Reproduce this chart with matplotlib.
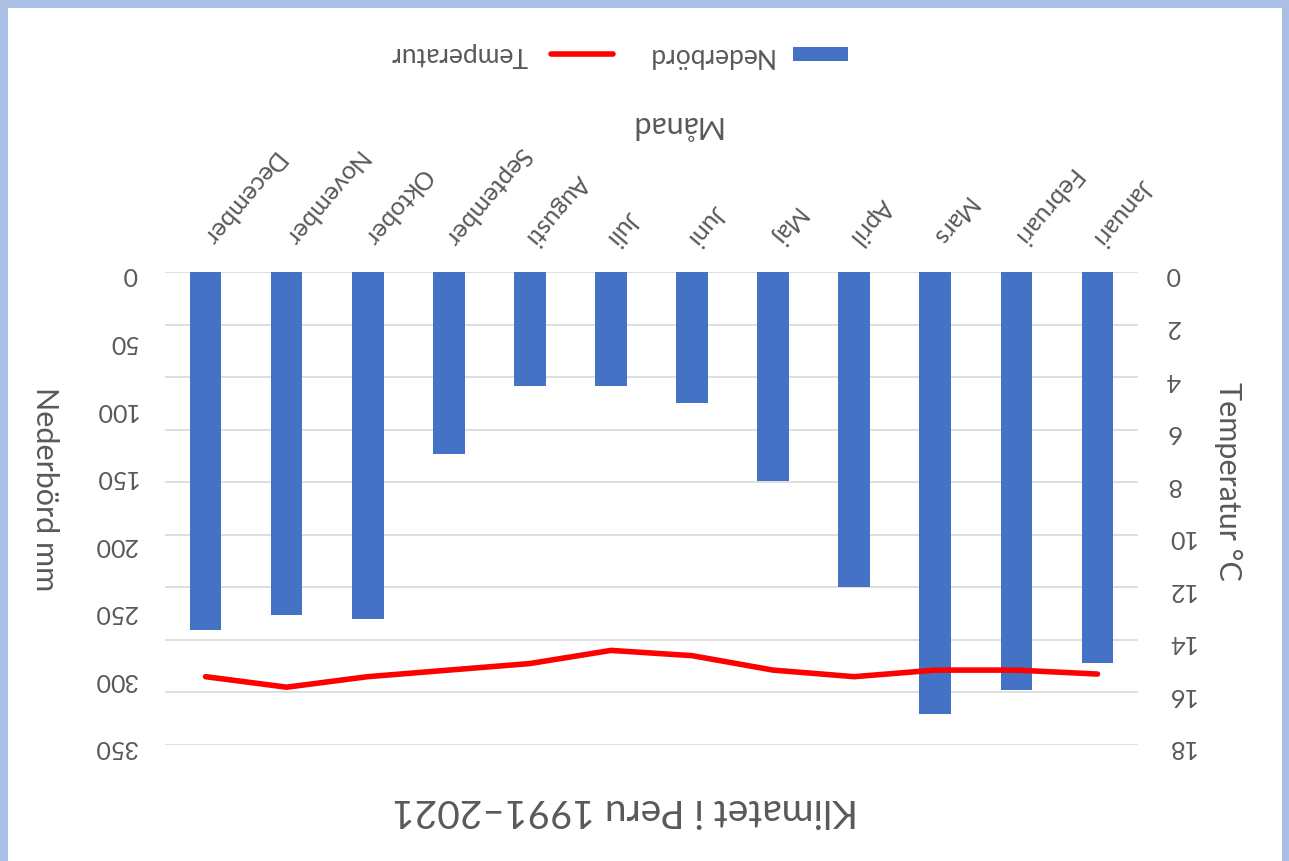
import matplotlib
matplotlib.use("Agg")
import matplotlib.pyplot as plt
from matplotlib.patches import Rectangle

plt.rcParams['font.family'] = ['Lato', 'DejaVu Sans']

# data
months = ['Januari', 'Februari', 'Mars', 'April', 'Maj', 'Juni', 'Juli',
          'Augusti', 'September', 'Oktober', 'November', 'December']
nederbord = [289, 309, 327, 233, 155, 97, 84, 84, 135, 257, 254, 265]
temperatur = [15.3, 15.15, 15.15, 15.4, 15.15, 14.6, 14.4, 14.9, 15.15, 15.4, 15.8, 15.4]
prec_ticks = list(range(0, 351, 50))
temp_ticks = list(range(0, 19, 2))

GRAY = '#595959'
BLUE = '#4472c4'
RED = '#ff0000'
W, H = 1289, 862

fig = plt.figure(figsize=(W / 100, H / 100), dpi=100)
fig.patch.set_facecolor('#a9bfe4')
fig.add_artist(Rectangle((8 / W, 0), 1274 / W, 853 / H, transform=fig.transFigure,
                         facecolor='white', edgecolor='none', zorder=-5))

# whole chart is shown upside down
axg = fig.add_axes([165 / W, (H - 746) / H, 973 / W, 473 / H])
axb = axg.twinx()
axl = axg.twinx()
axg.set_zorder(0)
axb.set_zorder(1)
axl.set_zorder(2)

x = list(range(len(months)))

# gridlines + temperature ticks
axg.set_ylim(18, 0)
axg.set_yticks(temp_ticks)
axg.yaxis.tick_right()
axg.grid(axis='y', color='#d9d9d9', linewidth=1.2)
axg.tick_params(axis='y', length=0, pad=20, labelsize=18, labelcolor=GRAY, labelrotation=180)
axg.set_xticks(x)
axg.xaxis.tick_top()
axg.set_xticklabels(months, rotation=230, rotation_mode='anchor', ha='right', va='center')
axg.tick_params(axis='x', length=0, pad=22, labelsize=18, labelcolor=GRAY)
axg.set_xlim(-0.5, 11.5)
axg.invert_xaxis()

# precipitation bars
axb.bar(x, nederbord, width=0.39, color=BLUE)
axb.set_ylim(350, 0)
axb.set_yticks(prec_ticks)
axb.yaxis.tick_left()
axb.tick_params(axis='y', length=0, pad=20, labelsize=18, labelcolor=GRAY, labelrotation=180)
axb.tick_params(axis='x', top=False, bottom=False, labeltop=False, labelbottom=False)

# temperature line
axl.plot(x, temperatur, color=RED, linewidth=4, solid_capstyle='round', solid_joinstyle='round')
axl.set_ylim(18, 0)
axl.set_yticks([])
axl.tick_params(axis='x', top=False, bottom=False, labeltop=False, labelbottom=False)

for a in (axg, axb, axl):
    for s in a.spines.values():
        s.set_visible(False)

# titles, drawn rotated like the reference
fig.text(625 / W, 1 - 810 / H, 'Klimatet i Peru 1991–2021', rotation=180,
         ha='center', va='center', fontsize=28, color=GRAY)
fig.text(675 / W, 1 - 125 / H, 'Månad', rotation=180,
         ha='center', va='center', fontsize=22, color=GRAY)
fig.text(45 / W, 1 - 489 / H, 'Nederbörd mm', rotation=270,
         ha='center', va='center', fontsize=22, color=GRAY)
fig.text(1228 / W, 1 - 481 / H, 'Temperatur °C', rotation=270,
         ha='center', va='center', fontsize=22, color=GRAY)

# legend
fig.add_artist(Rectangle((793 / W, 1 - 62 / H), 55 / W, 14 / H, transform=fig.transFigure,
                         facecolor=BLUE, edgecolor='none'))
fig.text(773 / W, 1 - 55 / H, 'Nederbörd', rotation=180, ha='right', va='center',
         fontsize=19, color=GRAY)
fig.add_artist(plt.Line2D([551 / W, 613 / W], [1 - 55 / H, 1 - 55 / H], transform=fig.transFigure,
                          color=RED, linewidth=4, solid_capstyle='round'))
fig.text(528 / W, 1 - 55 / H, 'Temperatur', rotation=180, ha='right', va='center',
         fontsize=19, color=GRAY)

fig.savefig('out.png', dpi=100, facecolor=fig.get_facecolor())
